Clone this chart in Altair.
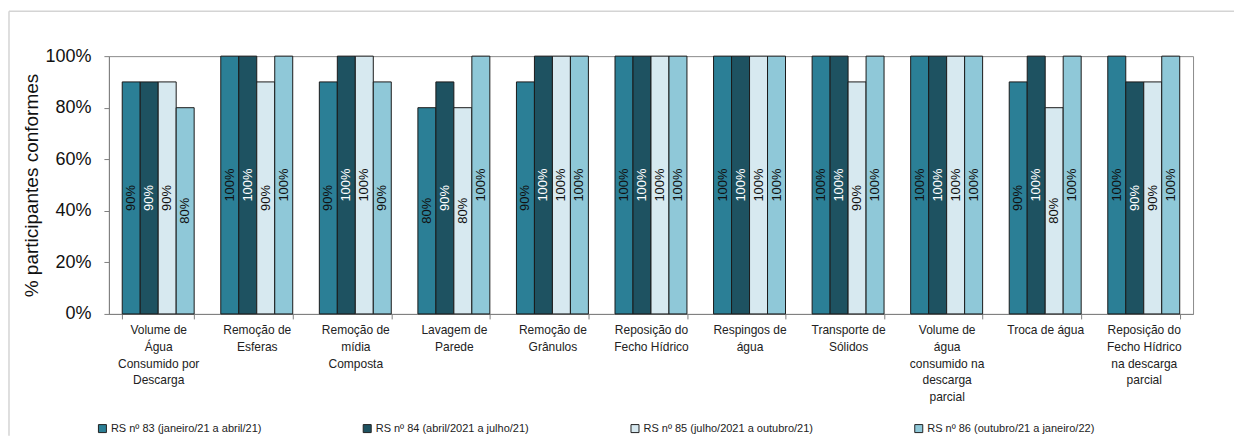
import altair as alt
import pandas as pd

categories = [
    "Volume de|Água|Consumido por|Descarga",
    "Remoção de|Esferas",
    "Remoção de|mídia|Composta",
    "Lavagem de|Parede",
    "Remoção de|Grânulos",
    "Reposição do|Fecho Hídrico",
    "Respingos de|água",
    "Transporte de|Sólidos",
    "Volume de|água|consumido na|descarga|parcial",
    "Troca de água",
    "Reposição do|Fecho Hídrico|na descarga|parcial",
]
series = [
    "RS nº 83 (janeiro/21 a abril/21)",
    "RS nº 84 (abril/2021 a julho/21)",
    "RS nº 85 (julho/2021 a outubro/21)",
    "RS nº 86 (outubro/21 a janeiro/22)",
]
rs83 = [90, 100, 90, 80, 90, 100, 100, 100, 100, 90, 100]
rs84 = [90, 100, 100, 90, 100, 100, 100, 100, 100, 100, 90]
rs85 = [90, 90, 100, 80, 100, 100, 100, 90, 100, 80, 90]
rs86 = [80, 100, 90, 100, 100, 100, 100, 100, 100, 100, 100]
y_ticks = [0, 0.2, 0.4, 0.6, 0.8, 1.0]

colors = ["#2b7f96", "#1e5261", "#d7e9f0", "#8fc8d8"]

rows = []
for i, cat in enumerate(categories):
    for s, vals in zip(series, (rs83, rs84, rs85, rs86)):
        rows.append({"cat": cat, "serie": s, "valor": vals[i] / 100})
df = pd.DataFrame(rows)

FONT = "Liberation Sans"

x_enc = alt.X(
    "cat:N",
    sort=categories,
    scale=alt.Scale(paddingInner=0.27, paddingOuter=0.135),
    axis=alt.Axis(
        title=None,
        labelAngle=0,
        labelExpr="split(datum.label, '|')",
        labelFontSize=12,
        labelLineHeight=16.7,
        labelBaseline="top",
        labelPadding=6,
        labelLimit=200,
        labelOverlap=False,
        labelColor="#222222",
        tickBand="extent",
        tickSize=5,
        tickColor="#808080",
        domainColor="#808080",
        grid=False,
    ),
)
xo_enc = alt.XOffset("serie:N", sort=series, scale=alt.Scale(paddingInner=0, paddingOuter=0))
y_axis = alt.Axis(
    values=y_ticks,
    format=".0%",
    title="% participantes conformes",
    titleFontSize=19,
    titleFontWeight="normal",
    titleColor="#111111",
    titlePadding=3,
    labelFontSize=18,
    labelColor="#111111",
    labelPadding=13,
    tickSize=5,
    tickColor="#808080",
    domainColor="#808080",
    grid=False,
)
y_scale = alt.Scale(domain=[0, 1], nice=False)

base = alt.Chart(df)

bars = base.mark_bar(stroke="#1a1a1a", strokeWidth=1).encode(
    x=x_enc,
    xOffset=xo_enc,
    y=alt.Y("valor:Q", scale=y_scale, axis=y_axis),
    color=alt.Color(
        "serie:N",
        sort=series,
        scale=alt.Scale(domain=series, range=colors),
        legend=alt.Legend(
            title=None,
            orient="none",
            legendX=-12,
            legendY=367,
            direction="horizontal",
            columns=4,
            columnPadding=99,
            symbolType="square",
            symbolSize=64,
            symbolStrokeColor="#222222",
            symbolStrokeWidth=1,
            labelFontSize=11,
            labelColor="#222222",
            labelOffset=3,
            labelLimit=300,
        ),
    ),
)

labels = base.transform_calculate(mid="datum.valor / 2").mark_text(
    angle=270, fontSize=13, align="center", baseline="middle"
).encode(
    x=x_enc,
    xOffset=xo_enc,
    y=alt.Y("mid:Q", scale=y_scale, axis=y_axis),
    text=alt.Text("valor:Q", format=".0%"),
    color=alt.condition(alt.datum.serie == series[1], alt.value("#ffffff"), alt.value("#111111")),
)

one = alt.Data(values=[{"a": 1}])
border_top = alt.Chart(one).mark_rule(color="#d4d4d4", strokeWidth=1.5).encode(
    x=alt.value(-100), x2=alt.value(1126), y=alt.value(-45)
)
border_left = alt.Chart(one).mark_rule(color="#d4d4d4", strokeWidth=1.5).encode(
    x=alt.value(-100), y=alt.value(-45), y2=alt.value(380)
)

chart = (
    alt.layer(bars, labels, border_top, border_left)
    .properties(width=1085, height=258, padding={"left": 0, "top": 2, "right": 0, "bottom": 0})
    .configure(font=FONT)
    .configure_view(stroke="#8c8c8c")
)

chart.save("out.html", embed_options={"renderer": "svg", "actions": False})
